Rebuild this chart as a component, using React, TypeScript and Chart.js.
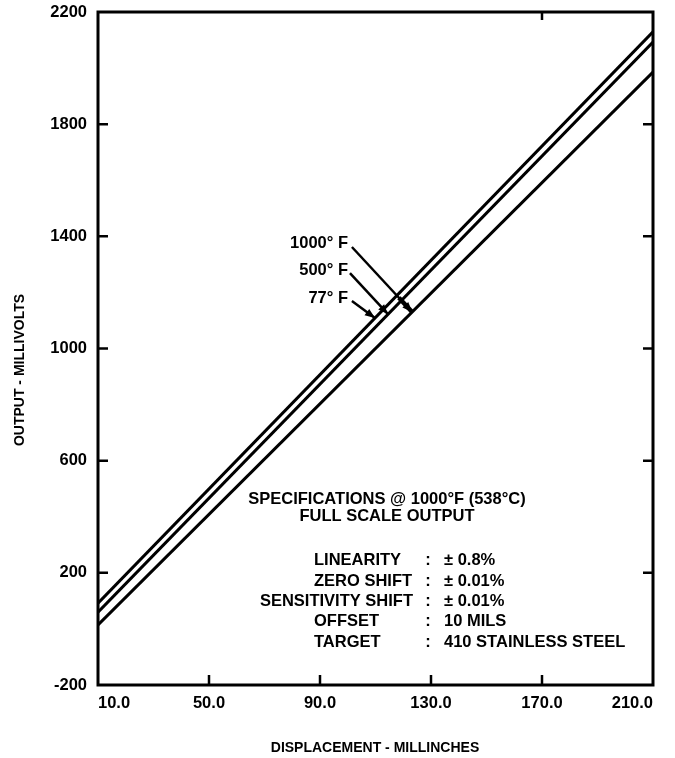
import React, { useEffect, useRef } from 'react';
import { Chart, registerables } from 'chart.js';

Chart.register(...registerables);

// ---- data ----
const xEnds = [10, 210];
const xTicks = [10, 50, 90, 130, 170, 210];
const yTicks = [-200, 200, 600, 1000, 1400, 1800, 2200];
const seriesNames = ['77° F', '500° F', '1000° F'];
const series77 = [92, 2129];
const series500 = [60, 2093];
const series1000 = [14, 1986];

// annotation arrows (data coordinates, in series order 77 / 500 / 1000)
const arrowLabelX = [100.1, 100.1, 100.1];
const arrowLabelY = [1180, 1280, 1373];
const arrowFromX = [101.5, 100.8, 101.5];
const arrowFromY = [1169, 1269, 1362];
const arrowTipX = [109.8, 114.5, 123.2];

const specTitle = ['SPECIFICATIONS @ 1000°F (538°C)', 'FULL SCALE OUTPUT'];
const specLabels = ['LINEARITY', 'ZERO SHIFT', 'SENSITIVITY SHIFT', 'OFFSET', 'TARGET'];
const specValues = ['± 0.8%', '± 0.01%', '± 0.01%', '10 MILS', '410 STAINLESS STEEL'];

const xTitle = 'DISPLACEMENT - MILLINCHES';
const yTitle = 'OUTPUT - MILLIVOLTS';

const allSeries = [series77, series500, series1000];

const FONT = '"Liberation Sans", Arial, sans-serif';

function seriesAt(s: number[], xv: number) {
  const t = (xv - xEnds[0]) / (xEnds[1] - xEnds[0]);
  return s[0] + (s[1] - s[0]) * t;
}

const annotPlugin = {
  id: 'annot',
  afterDatasetsDraw(chart: any) {
    const { ctx, chartArea } = chart;
    const { left, right, top, bottom } = chartArea;
    const xs = chart.scales.x;
    const ys = chart.scales.y;
    ctx.save();
    ctx.strokeStyle = '#000';
    ctx.fillStyle = '#000';
    ctx.lineCap = 'butt';

    // frame
    ctx.lineWidth = 3;
    ctx.strokeRect(left, top, right - left, bottom - top);

    // inward ticks
    ctx.lineWidth = 2.5;
    const tl = 10;
    yTicks.slice(1, -1).forEach((v) => {
      const py = ys.getPixelForValue(v);
      ctx.beginPath();
      ctx.moveTo(left, py);
      ctx.lineTo(left + tl, py);
      ctx.moveTo(right, py);
      ctx.lineTo(right - tl, py);
      ctx.stroke();
    });
    xTicks.slice(1, -1).forEach((v) => {
      const px = xs.getPixelForValue(v);
      ctx.beginPath();
      ctx.moveTo(px, bottom);
      ctx.lineTo(px, bottom - tl);
      ctx.stroke();
    });
    {
      const px = xs.getPixelForValue(xTicks[4]);
      ctx.beginPath();
      ctx.moveTo(px, top);
      ctx.lineTo(px, top + 8);
      ctx.stroke();
    }

    // arrows + labels
    ctx.font = `bold 16.5px ${FONT}`;
    ctx.textAlign = 'right';
    ctx.textBaseline = 'middle';
    allSeries.forEach((s, si) => {
      const lx = xs.getPixelForValue(arrowLabelX[si]);
      const ly = ys.getPixelForValue(arrowLabelY[si]);
      ctx.fillText(seriesNames[si], lx, ly);
      const fx = xs.getPixelForValue(arrowFromX[si]);
      const fy = ys.getPixelForValue(arrowFromY[si]);
      const tx = xs.getPixelForValue(arrowTipX[si]);
      const ty = ys.getPixelForValue(seriesAt(s, arrowTipX[si]));
      ctx.lineWidth = 2.5;
      ctx.beginPath();
      ctx.moveTo(fx, fy);
      ctx.lineTo(tx, ty);
      ctx.stroke();
      if (si === 2) {
        ctx.lineWidth = 4.5;
        ctx.beginPath();
        ctx.moveTo(fx + (tx - fx) * 0.78, fy + (ty - fy) * 0.78);
        ctx.lineTo(tx, ty);
        ctx.stroke();
      }
      const ang = Math.atan2(ty - fy, tx - fx);
      const hl = 10, hw = 4;
      ctx.beginPath();
      ctx.moveTo(tx, ty);
      ctx.lineTo(tx - hl * Math.cos(ang) + hw * Math.sin(ang), ty - hl * Math.sin(ang) - hw * Math.cos(ang));
      ctx.lineTo(tx - hl * Math.cos(ang) - hw * Math.sin(ang), ty - hl * Math.sin(ang) + hw * Math.cos(ang));
      ctx.closePath();
      ctx.fill();
    });

    // specification block
    ctx.font = `bold 16.5px ${FONT}`;
    ctx.textAlign = 'center';
    ctx.fillText(specTitle[0], 387, 499);
    ctx.fillText(specTitle[1], 387, 516);
    const rowY = [560, 581, 601, 621, 642];
    specLabels.forEach((lab, i) => {
      const w = ctx.measureText(lab).width;
      const xStart = Math.min(314, 413 - w);
      ctx.textAlign = 'left';
      ctx.fillText(lab, xStart, rowY[i]);
      ctx.textAlign = 'center';
      ctx.fillText(':', 428, rowY[i]);
      ctx.textAlign = 'left';
      ctx.fillText(specValues[i], 444, rowY[i]);
    });

    // axis titles
    ctx.font = `bold 14px ${FONT}`;
    ctx.textAlign = 'center';
    ctx.fillText(xTitle, 375, 748);
    ctx.save();
    ctx.translate(20, 370);
    ctx.rotate(-Math.PI / 2);
    ctx.fillText(yTitle, 0, 0);
    ctx.restore();

    ctx.restore();
  },
};

const zeroPad = (sc: any) => {
  sc.paddingTop = 0;
  sc.paddingBottom = 0;
  sc.paddingLeft = 0;
  sc.paddingRight = 0;
};

export default function App() {
  const ref = useRef<HTMLCanvasElement>(null);
  useEffect(() => {
    if (!ref.current) return;
    const chart = new Chart(ref.current, {
      type: 'line',
      data: {
        datasets: allSeries.map((s, i) => ({
          label: seriesNames[i],
          data: xEnds.map((xv, j) => ({ x: xv, y: s[j] })),
          borderColor: '#000',
          borderWidth: 3,
          pointRadius: 0,
          fill: false,
        })),
      },
      options: {
        animation: false,
        responsive: false,
        devicePixelRatio: 1,
        layout: { padding: { left: 0, top: 12, right: 22, bottom: 0 } },
        plugins: { legend: { display: false }, tooltip: { enabled: false } },
        scales: {
          x: {
            type: 'linear',
            min: xTicks[0],
            max: xTicks[xTicks.length - 1],
            afterBuildTicks: (sc: any) => { sc.ticks = xTicks.map((v) => ({ value: v })); },
            afterFit: (sc: any) => { sc.height = 73; zeroPad(sc); },
            grid: { display: false, drawTicks: false },
            border: { display: false },
            ticks: {
              align: 'inner',
              padding: 9,
              color: '#000',
              font: { family: FONT, weight: 'bold', size: 16.5 },
              callback: (v: any) => Number(v).toFixed(1),
            },
          },
          y: {
            type: 'linear',
            min: yTicks[0],
            max: yTicks[yTicks.length - 1],
            afterBuildTicks: (sc: any) => { sc.ticks = yTicks.map((v) => ({ value: v })); },
            afterFit: (sc: any) => { sc.width = 98; zeroPad(sc); },
            grid: { display: false, drawTicks: false },
            border: { display: false },
            ticks: {
              padding: 11,
              color: '#000',
              font: { family: FONT, weight: 'bold', size: 16.5 },
              callback: (v: any) => String(v),
            },
          },
        },
      },
      plugins: [annotPlugin],
    } as any);
    return () => chart.destroy();
  }, []);
  return (
    <div style={{ position: 'fixed', left: 0, top: 0, width: 675, height: 758, background: '#fff' }}>
      <canvas ref={ref} width={675} height={758} style={{ width: 675, height: 758, display: 'block' }} />
    </div>
  );
}
